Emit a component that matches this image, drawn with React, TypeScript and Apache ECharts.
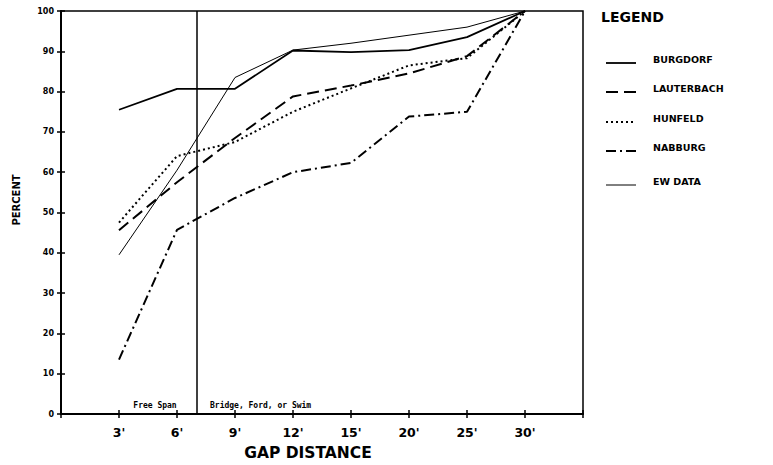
import React, { useEffect, useRef } from "react";
import * as echarts from "echarts";

const gapLabels = ["3'", "6'", "9'", "12'", "15'", "20'", "25'", "30'"];
const seriesNames = ["BURGDORF", "LAUTERBACH", "HUNFELD", "NABBURG", "EW DATA"];
const burgdorf = [75.5, 80.7, 80.7, 90.2, 89.8, 90.3, 93.5, 100];
const lauterbach = [45.6, 57.5, 68.5, 78.8, 81.5, 84.5, 88.8, 100];
const hunfeld = [47.5, 64, 67.5, 75, 80.8, 86.5, 88.3, 100];
const nabburg = [13.5, 45.7, 53.6, 60, 62.3, 73.8, 75, 100];
const ewData = [39.5, 60.5, 83.5, 90.3, 92, 94, 96, 100];
const divisionAt = 2 + 1 / 3; // 7 ft, between 6' and 9'
const regionLabels = ["Free Span", "Bridge, Ford, or Swim"];

const FONT = "'DejaVu Sans', 'Liberation Sans', sans-serif";

const styles = [
  { width: 1.8, type: "solid" as any },
  { width: 2, type: [12, 6] as any },
  { width: 2, type: [2, 3] as any },
  { width: 2, type: [10, 4, 2, 4] as any },
  { width: 1, type: "solid" as any },
];

export default function App() {
  const ref = useRef<HTMLDivElement>(null);
  useEffect(() => {
    if (!ref.current) return;
    const chart = echarts.init(ref.current, undefined, { renderer: "svg" });
    const all = [burgdorf, lauterbach, hunfeld, nabburg, ewData];
    const series: any[] = all.map((vals, i) => ({
      name: seriesNames[i],
      type: "line",
      data: vals.map((v, j) => [j + 1, v]),
      showSymbol: false,
      symbol: "none",
      lineStyle: { color: "#000", width: styles[i].width, type: styles[i].type },
      z: 3,
    }));
    series[0].markLine = {
      silent: true,
      symbol: "none",
      label: { show: false },
      lineStyle: { color: "#000", width: 1.5, type: "solid" },
      data: [[{ coord: [divisionAt, 0] }, { coord: [divisionAt, 100] }]],
    };
    const legendGraphics: any[] = [
      {
        type: "text",
        left: 601,
        top: 10,
        style: { text: "LEGEND", font: `bold 14px ${FONT}`, fill: "#000" },
      },
    ];
    const legendY = [59, 88, 118, 147, 181];
    seriesNames.forEach((n, i) => {
      legendGraphics.push({
        type: "line",
        shape: { x1: 606, y1: legendY[i] + 4, x2: 636, y2: legendY[i] + 4 },
        style: { stroke: "#000", lineWidth: styles[i].width, lineDash: typeof styles[i].type === "string" ? null : styles[i].type },
      });
      legendGraphics.push({
        type: "text",
        x: 653,
        y: legendY[i],
        style: { text: n, font: `bold 9.5px ${FONT}`, fill: "#000", textVerticalAlign: "middle" },
      });
    });
    chart.setOption({
      animation: false,
      backgroundColor: "#fff",
      grid: { left: 61, right: 190, top: 11, bottom: 51, show: true, borderColor: "#000", borderWidth: 1.5 },
      xAxis: [
        {
          type: "value",
          min: 0,
          max: 9,
          interval: 1,
          splitLine: { show: false },
          axisLine: { lineStyle: { color: "#000", width: 2 } },
          axisTick: { show: true, length: 4, lineStyle: { color: "#000", width: 1.5 } },
          axisLabel: {
            color: "#000",
            fontFamily: FONT,
            fontWeight: "bold",
            fontSize: 12.5,
            margin: 12,
            formatter: (v: number) => gapLabels[v - 1] ?? "",
          },
        },
        {
          type: "value",
          min: 0,
          max: 9,
          interval: 1,
          position: "bottom",
          splitLine: { show: false },
          axisLine: { show: false },
          axisTick: { show: true, inside: true, length: 4, lineStyle: { color: "#000", width: 1.5 } },
          axisLabel: { show: false },
        },
      ],
      yAxis: [
        {
          type: "value",
          min: 0,
          max: 100,
          interval: 10,
          splitLine: { show: false },
          axisLine: { show: true, lineStyle: { color: "#000", width: 2 } },
          axisTick: { show: true, length: 4, lineStyle: { color: "#000", width: 1.5 } },
          axisLabel: { color: "#000", fontFamily: FONT, fontWeight: "bold", fontSize: 8, margin: 7 },
        },
        {
          type: "value",
          min: 0,
          max: 100,
          interval: 10,
          position: "left",
          splitLine: { show: false },
          axisLine: { show: false },
          axisTick: { show: true, inside: true, length: 4, lineStyle: { color: "#000", width: 1.5 } },
          axisLabel: { show: false },
        },
      ],
      series: [
        ...series,
        { type: "line", xAxisIndex: 1, yAxisIndex: 1, data: [] },
      ],
      graphic: [
        ...legendGraphics,
        {
          type: "text",
          x: 16,
          y: 200,
          rotation: Math.PI / 2,
          style: { text: "PERCENT", font: `bold 10px ${FONT}`, fill: "#000", textAlign: "center", textVerticalAlign: "middle" },
        },
        {
          type: "text",
          x: 308,
          y: 453,
          style: { text: "GAP DISTANCE", font: `bold 15.5px ${FONT}`, fill: "#000", textAlign: "center", textVerticalAlign: "middle" },
        },
        {
          type: "text",
          x: 155,
          y: 405,
          style: { text: regionLabels[0], font: `bold 8px 'DejaVu Sans Mono', monospace`, fill: "#000", textAlign: "center", textVerticalAlign: "middle" },
        },
        {
          type: "text",
          x: 210,
          y: 405,
          style: { text: regionLabels[1], font: `bold 8px 'DejaVu Sans Mono', monospace`, fill: "#000", textAlign: "left", textVerticalAlign: "middle" },
        },
      ],
    });
    return () => chart.dispose();
  }, []);
  return <div ref={ref} style={{ position: "fixed", left: 0, top: 0, width: 773, height: 465 }} />;
}
